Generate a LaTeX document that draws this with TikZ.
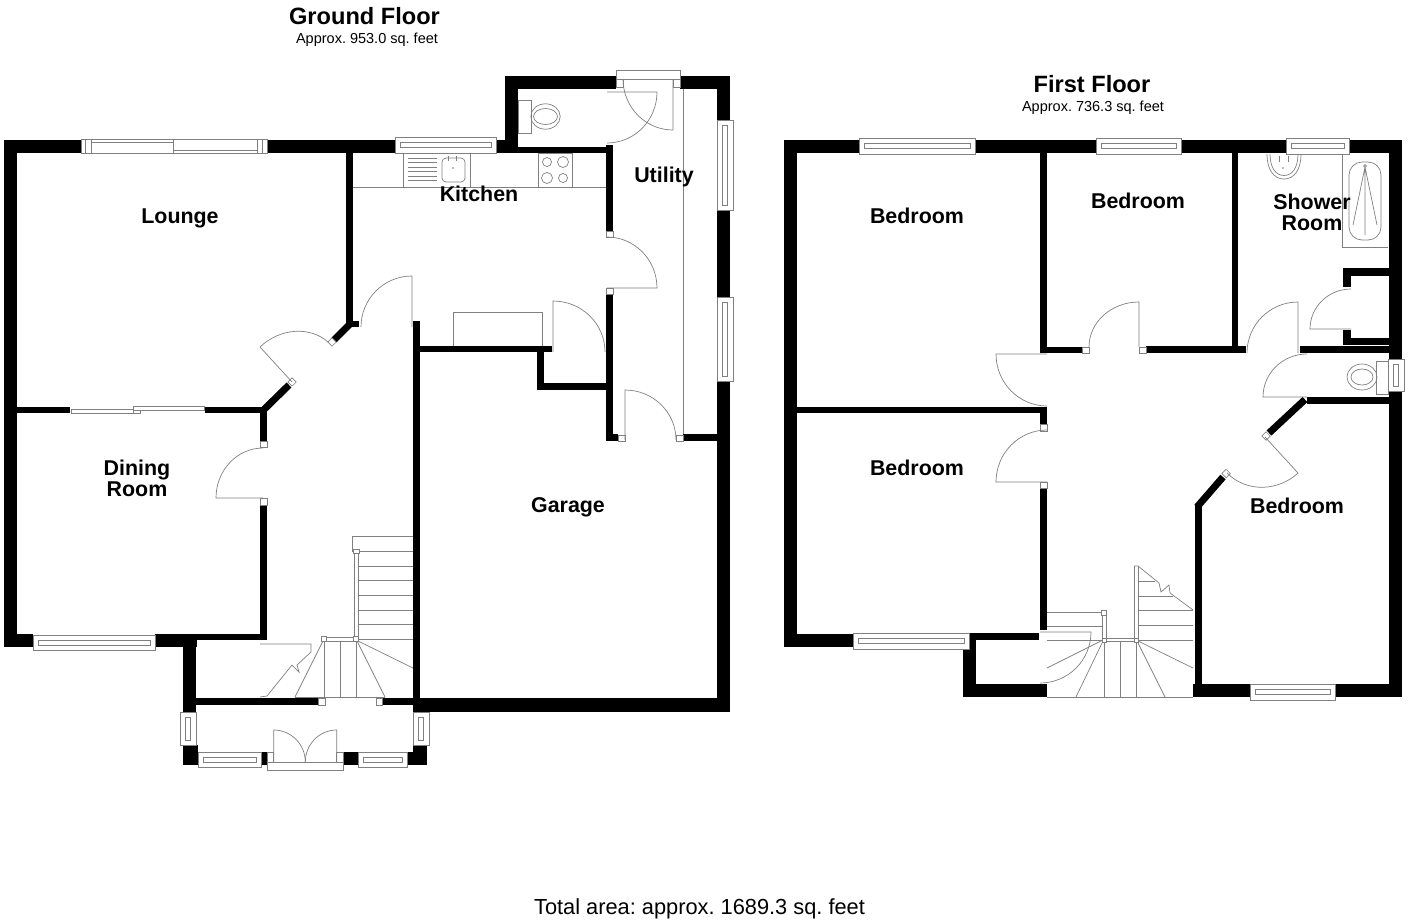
\documentclass[tikz,border=0pt]{standalone}
\usepackage{fontspec}
\setmainfont{Liberation Sans}
\frenchspacing
\definecolor{fix}{gray}{0.5}
\tikzset{
  fixture/.style={draw=fix,line width=0.7pt},
  wallstroke/.style={line width=7pt,draw=black},
  room/.style={font=\fontsize{21.4}{22}\selectfont\bfseries,align=center,inner sep=0pt,text=black},
  roomtwo/.style={room,font=\fontsize{21.4}{21}\selectfont\bfseries},
  floorname/.style={font=\fontsize{23.6}{25}\selectfont\bfseries,inner sep=0pt},
  floorarea/.style={font=\fontsize{14.5}{16}\selectfont,inner sep=0pt},
}
\newcommand{\wallbox}[4]{\fill[black] (#1,#2) rectangle (#3,#4);}
\newcommand{\jambbox}[4]{\draw[fixture,fill=white] (#1,#2) rectangle (#3,#4);}
% hinge hx hy, leaf tip lx ly, arc end ax ay
\newcommand{\doorleaf}[6]{%
  \pgfmathsetmacro{\cax}{#3+0.5523*(#5-#1)}%
  \pgfmathsetmacro{\cay}{#4+0.5523*(#6-#2)}%
  \pgfmathsetmacro{\cbx}{#5+0.5523*(#3-#1)}%
  \pgfmathsetmacro{\cby}{#6+0.5523*(#4-#2)}%
  \draw[fixture] (#1,#2) -- (#3,#4) .. controls (\cax,\cay) and (\cbx,\cby) .. (#5,#6);}
% horizontal window x1 x2 y1 y2
\newcommand{\winH}[4]{%
  \pgfmathsetmacro{\mya}{(#3+#4)/2-2.5}\pgfmathsetmacro{\myb}{(#3+#4)/2+2.5}%
  \pgfmathsetmacro{\xxa}{#1+5}\pgfmathsetmacro{\xxb}{#2-5}%
  \draw[fixture,fill=white] (#1,#3) rectangle (#2,#4);
  \draw[fixture] (\xxa,\mya) rectangle (\xxb,\myb);}
% vertical window x1 x2 y1 y2
\newcommand{\winV}[4]{%
  \pgfmathsetmacro{\mxa}{(#1+#2)/2-2.5}\pgfmathsetmacro{\mxb}{(#1+#2)/2+2.5}%
  \pgfmathsetmacro{\yya}{#3+5}\pgfmathsetmacro{\yyb}{#4-5}%
  \draw[fixture,fill=white] (#1,#3) rectangle (#2,#4);
  \draw[fixture] (\mxa,\yya) rectangle (\mxb,\yyb);}
\begin{document}
\begin{tikzpicture}[x=1pt,y=-1pt]
\useasboundingbox (0,0) rectangle (1408,921);
%% ================= GROUND FLOOR =================
% worktop and fixtures (under walls)
\draw[fixture] (353,187) -- (606,187);
\draw[fixture] (403,153) rectangle (470,187);
\foreach \yy in {158,162.5,167,171.5,176,180.5} {\draw[fixture] (408,\yy) -- (437,\yy);}
\draw[fixture,rounded corners=4pt] (442,158) rectangle (465,182);
\draw[fixture] (448,161) -- (448,156) (456,161) -- (456,156);
\fill[fix] (453,168) circle (0.8);
\draw[fixture] (538,153) rectangle (572,187);
\draw[fixture] (547,162) circle (4.5) (563,162) circle (5.5) (547,178) circle (5.5) (563,178) circle (4.5);
\draw[fixture] (453,346) -- (453,312) -- (542,312) -- (542,346);
\draw[fixture] (683,89) -- (683,435);
\draw[fixture] (518,100) rectangle (531,133);
\draw[fixture] (545.5,116.5) ellipse (14.7 and 12.7) (545.5,116.5) ellipse (12 and 8);
% stairs
\foreach \yy in {551,566,580,595,610,624,639} {\draw[fixture] (358,\yy) -- (413,\yy);}
\draw[fixture] (358,551) -- (352,551) -- (352,536) -- (413,536);
\draw[fixture] (354,551) -- (354,639) (358,551) -- (358,639);
\draw[fixture] (324,637.5) -- (356,637.5) (324,641) -- (356,641);
\draw[fixture] (358,641) -- (413,668);
\draw[fixture] (357,641) -- (385,697);
\draw[fixture] (356,641) -- (356,697);
\draw[fixture] (340,641) -- (340,697);
\draw[fixture] (324,641) -- (324,697);
\draw[fixture] (323,641) -- (295,697);
\draw[fixture] (295,697) -- (385,697);
\draw[fixture] (260,644) -- (311,644) -- (311,652) -- (297,665) -- (299,672) -- (292,665) -- (267,696) -- (260,697);
\jambbox{353}{549}{359}{553}
\jambbox{321.5}{636.5}{326.5}{641.5}
\jambbox{353.5}{636.5}{358.5}{641.5}
% walls
\wallbox{4}{140}{17}{647}
\wallbox{4}{140}{82}{153}
\wallbox{267}{140}{396}{153}
\wallbox{495}{140}{518}{153}
\wallbox{505}{76}{518}{153}
\wallbox{505}{76}{616}{89}
\wallbox{680}{76}{730}{89}
\wallbox{717}{76}{730}{120}
\wallbox{717}{210}{730}{297}
\wallbox{717}{381}{730}{712}
\wallbox{518}{147}{613}{153}
\wallbox{606}{145}{613}{231}
\wallbox{606}{294}{613}{441}
\wallbox{606}{434}{618}{441}
\wallbox{683}{434}{717}{441}
\wallbox{346}{153}{353}{327}
\wallbox{346}{321}{359}{327}
\draw[wallstroke] (350,324) -- (334,340);
\draw[wallstroke] (289,385) -- (263.5,410);
\wallbox{17}{407}{70}{413}
\wallbox{205}{407}{266}{413}
\wallbox{260}{407}{267}{441}
\wallbox{260}{505}{267}{640}
\wallbox{4}{634}{33}{647}
\wallbox{155}{634}{197}{647}
\wallbox{197}{634}{267}{640}
\wallbox{183}{634}{196}{712}
\wallbox{183}{745}{198}{765}
\wallbox{261}{752}{267}{765}
\wallbox{343}{752}{358}{765}
\wallbox{407}{752}{427}{765}
\wallbox{413}{745}{427}{752}
\wallbox{413}{321}{420}{712}
\wallbox{420}{346}{552}{352}
\wallbox{537}{346}{544}{390}
\wallbox{537}{383}{606}{390}
\wallbox{413}{698}{730}{712}
\wallbox{183}{698}{318}{705}
\wallbox{382}{698}{413}{705}
% ground floor windows
\draw[fixture,fill=white] (81,139) rectangle (267,153);
\draw[fixture] (91,139) -- (91,153) (257,139) -- (257,153) (85,139) -- (85,153) (262,139) -- (262,153);
\draw[fixture] (173,139) -- (173,153);
\draw[fixture] (91,142) -- (173,142) (173,150) -- (257,150);
\winH{395}{496}{137}{153}
\winH{33}{155}{635}{650}
\winV{717}{733}{120}{210}
\winV{717}{733}{297}{381}
\winH{198}{261}{752}{767}
\winH{358}{407}{752}{767}
\winV{180}{196}{712}{745}
\winV{413}{429}{712}{745}
\draw[fixture,fill=white] (267,762) rectangle (343,770);
\draw[fixture,fill=white] (616,70) rectangle (680,79);
% sliding doors
\draw[fixture,fill=white] (71,409) rectangle (133,413);
\draw[fixture,fill=white] (133,406) rectangle (204,410);
\draw[fixture] (133,410) -- (133,413) -- (140,413) -- (140,410);
% jambs
\jambbox{606}{231}{613}{237}
\jambbox{606}{288}{613}{294}
\jambbox{618}{435}{625}{441}
\jambbox{676}{435}{683}{441}
\jambbox{616}{79}{623}{87}
\jambbox{673}{79}{680}{87}
\jambbox{318}{698}{325}{705}
\jambbox{376}{698}{382}{705}
\jambbox{260}{441}{267}{447}
\jambbox{260}{498}{267}{505}
\jambbox{267}{752}{273.7}{762}
\jambbox{336.7}{752}{343}{762}
\draw[fixture,fill=white,rotate around={45:(332,342)}] (329,339) rectangle (335,345);
\draw[fixture,fill=white,rotate around={45:(292,382)}] (289,379) rectangle (295,385);
% ground floor doors
\doorleaf{673}{79}{673}{130}{623}{79}
\doorleaf{607}{92}{657}{92}{607}{143}
\doorleaf{607}{288}{657}{288}{607}{237}
\doorleaf{553}{352}{553}{301}{605}{352}
\doorleaf{412}{327}{412}{276}{361}{327}
\doorleaf{625}{440}{625}{390}{676}{440}
\doorleaf{263}{498}{216}{498}{263}{448}
\draw[fixture] (292,382) -- (260,347) .. controls (280,328) and (310,326) .. (328,342);
\doorleaf{273.7}{762}{273.7}{730}{305.3}{762}
\doorleaf{336.7}{762}{336.7}{730}{305.3}{762}
%% ================= FIRST FLOOR =================
% bath, sink, wc
\draw[fixture] (1342,154) -- (1342,247) -- (1388,247);
\draw[fixture,rounded corners=13pt] (1349,162) rectangle (1381,240);
\draw[fixture] (1365,167) -- (1353,225) (1365,167) -- (1377,225) (1365,167) -- (1365,235);
\draw[fixture] (1365,166) circle (1.3);
\draw[fixture] (1267,154) .. controls (1267,170) and (1274,179) .. (1284,179) .. controls (1294,179) and (1301,170) .. (1301,154);
\draw[fixture] (1270,154) .. controls (1270,168) and (1276,175.5) .. (1284,175.5) .. controls (1292,175.5) and (1298,168) .. (1298,154);
\draw[fixture] (1279,156) -- (1279,162) (1288,156) -- (1288,162);
\fill[fix] (1283,168) circle (0.8);
\draw[fixture] (1376,361) rectangle (1388,394);
\draw[fixture] (1362,377) ellipse (15 and 13) (1362,377) ellipse (11 and 8);
% stairs
\draw[fixture] (1138,581) -- (1155,581) (1138,596) -- (1173,596);
\foreach \yy in {610,625,640} {\draw[fixture] (1138,\yy) -- (1193,\yy);}
\draw[fixture] (1134,566) -- (1138,566) -- (1159,583) -- (1161,592) -- (1169,585) -- (1170,593) -- (1193,610);
\draw[fixture] (1134,566) -- (1134,640) (1138,566) -- (1138,640);
\draw[fixture] (1047,612.5) -- (1102,612.5) (1047,626) -- (1102,626) (1047,640) -- (1102,640);
\draw[fixture] (1102,612) -- (1102,640) (1106,612) -- (1106,640);
\draw[fixture] (1104,638) -- (1136,638) (1104,641) -- (1136,641);
\draw[fixture] (1138,641) -- (1193,668);
\draw[fixture] (1137,641) -- (1165,697);
\draw[fixture] (1136,641) -- (1136,697);
\draw[fixture] (1120,641) -- (1120,697);
\draw[fixture] (1104,641) -- (1104,697);
\draw[fixture] (1103,641) -- (1076,697);
\draw[fixture] (1103,640) -- (1047,668);
\draw[fixture] (1047,697) -- (1193,697);
\jambbox{1101.5}{610}{1106.5}{615}
\jambbox{1102}{638}{1106}{642}
\jambbox{1134}{638}{1138}{642}
\doorleaf{1040}{632}{1091}{632}{1040}{683}
% walls
\wallbox{784}{140}{797}{647}
\wallbox{784}{140}{859}{153}
\wallbox{975}{140}{1096}{153}
\wallbox{1181}{140}{1286}{153}
\wallbox{1349}{140}{1402}{153}
\wallbox{1389}{140}{1402}{359}
\wallbox{1389}{391}{1402}{697}
\wallbox{1040}{153}{1047}{353}
\wallbox{1040}{347}{1082}{353}
\wallbox{1146}{346}{1246}{353}
\wallbox{1232}{153}{1238}{353}
\wallbox{1300}{346}{1389}{353}
\wallbox{1343}{268}{1389}{276}
\wallbox{1343}{268}{1351}{287}
\wallbox{1343}{330}{1351}{345}
\wallbox{1343}{338}{1389}{345}
\wallbox{1307}{397}{1389}{404}
\draw[wallstroke] (1305,399.5) -- (1269,433);
\draw[wallstroke] (1223,477) -- (1197,507);
\wallbox{1195}{505}{1202}{697}
\wallbox{1193}{684}{1250}{697}
\wallbox{1335}{684}{1402}{697}
\wallbox{797}{407}{1047}{413}
\wallbox{1040}{407}{1047}{424}
\wallbox{1040}{488}{1047}{630}
\wallbox{784}{634}{853}{647}
\wallbox{969}{633}{1039}{640}
\wallbox{963}{640}{976}{697}
\wallbox{963}{684}{1047}{697}
% first floor windows
\winH{859}{975}{138}{154}
\winH{1096}{1181}{138}{154}
\winH{1286}{1349}{138}{154}
\winH{853}{969}{633}{649}
\winH{1250}{1335}{684}{700}
\winV{1388}{1404}{359}{391}
% first floor jambs
\jambbox{1082}{347}{1089}{353}
\jambbox{1139}{347}{1146}{353}
\jambbox{1040}{424}{1047}{431}
\jambbox{1040}{482}{1047}{488}
\draw[fixture,fill=white,rotate around={45:(1266,436)}] (1263,433) rectangle (1269,439);
\draw[fixture,fill=white,rotate around={45:(1226,473.5)}] (1223,470.5) rectangle (1229,476.5);
% first floor doors
\doorleaf{1139}{347}{1139}{302}{1089}{347}
\doorleaf{1047}{354}{996}{354}{1047}{406}
\doorleaf{1047}{482}{996}{482}{1047}{430}
\doorleaf{1298}{353}{1298}{302}{1247}{353}
\doorleaf{1351}{329}{1310}{329}{1351}{289}
\doorleaf{1307}{397}{1263}{397}{1307}{354}
\draw[fixture] (1265,437) -- (1298,473) .. controls (1280,490) and (1248,494) .. (1227,473);
%% ================= TEXT =================
\node[floorname] (gf) at (364.5,16) {Ground Floor};
\node[floorarea] (gfa) at (367,40) {Approx. 953.0 sq. feet};
\node[floorname] (ff) at (1092,84) {First Floor};
\node[floorarea] (ffa) at (1093,108) {Approx. 736.3 sq. feet};
\node[room] (r1) at (180,218) {Lounge};
\node[room] (r2) at (479,194) {Kitchen};
\node[room] (r3) at (664,177) {Utility};
\node[roomtwo] (r4) at (137,478) {Dining\\Room};
\node[room] (r5) at (568,507) {Garage};
\node[room] (r6) at (917,216) {Bedroom};
\node[room] (r7) at (1138,201) {Bedroom};
\node[roomtwo] (r8) at (1312,212) {Shower\\Room};
\node[room] (r9) at (917,468) {Bedroom};
\node[room] (r10) at (1297,506) {Bedroom};
\node[inner sep=0pt,font=\fontsize{21.8}{23}\selectfont] (tot) at (699.5,909) {Total area: approx. 1689.3 sq. feet};
\end{tikzpicture}
\end{document}
